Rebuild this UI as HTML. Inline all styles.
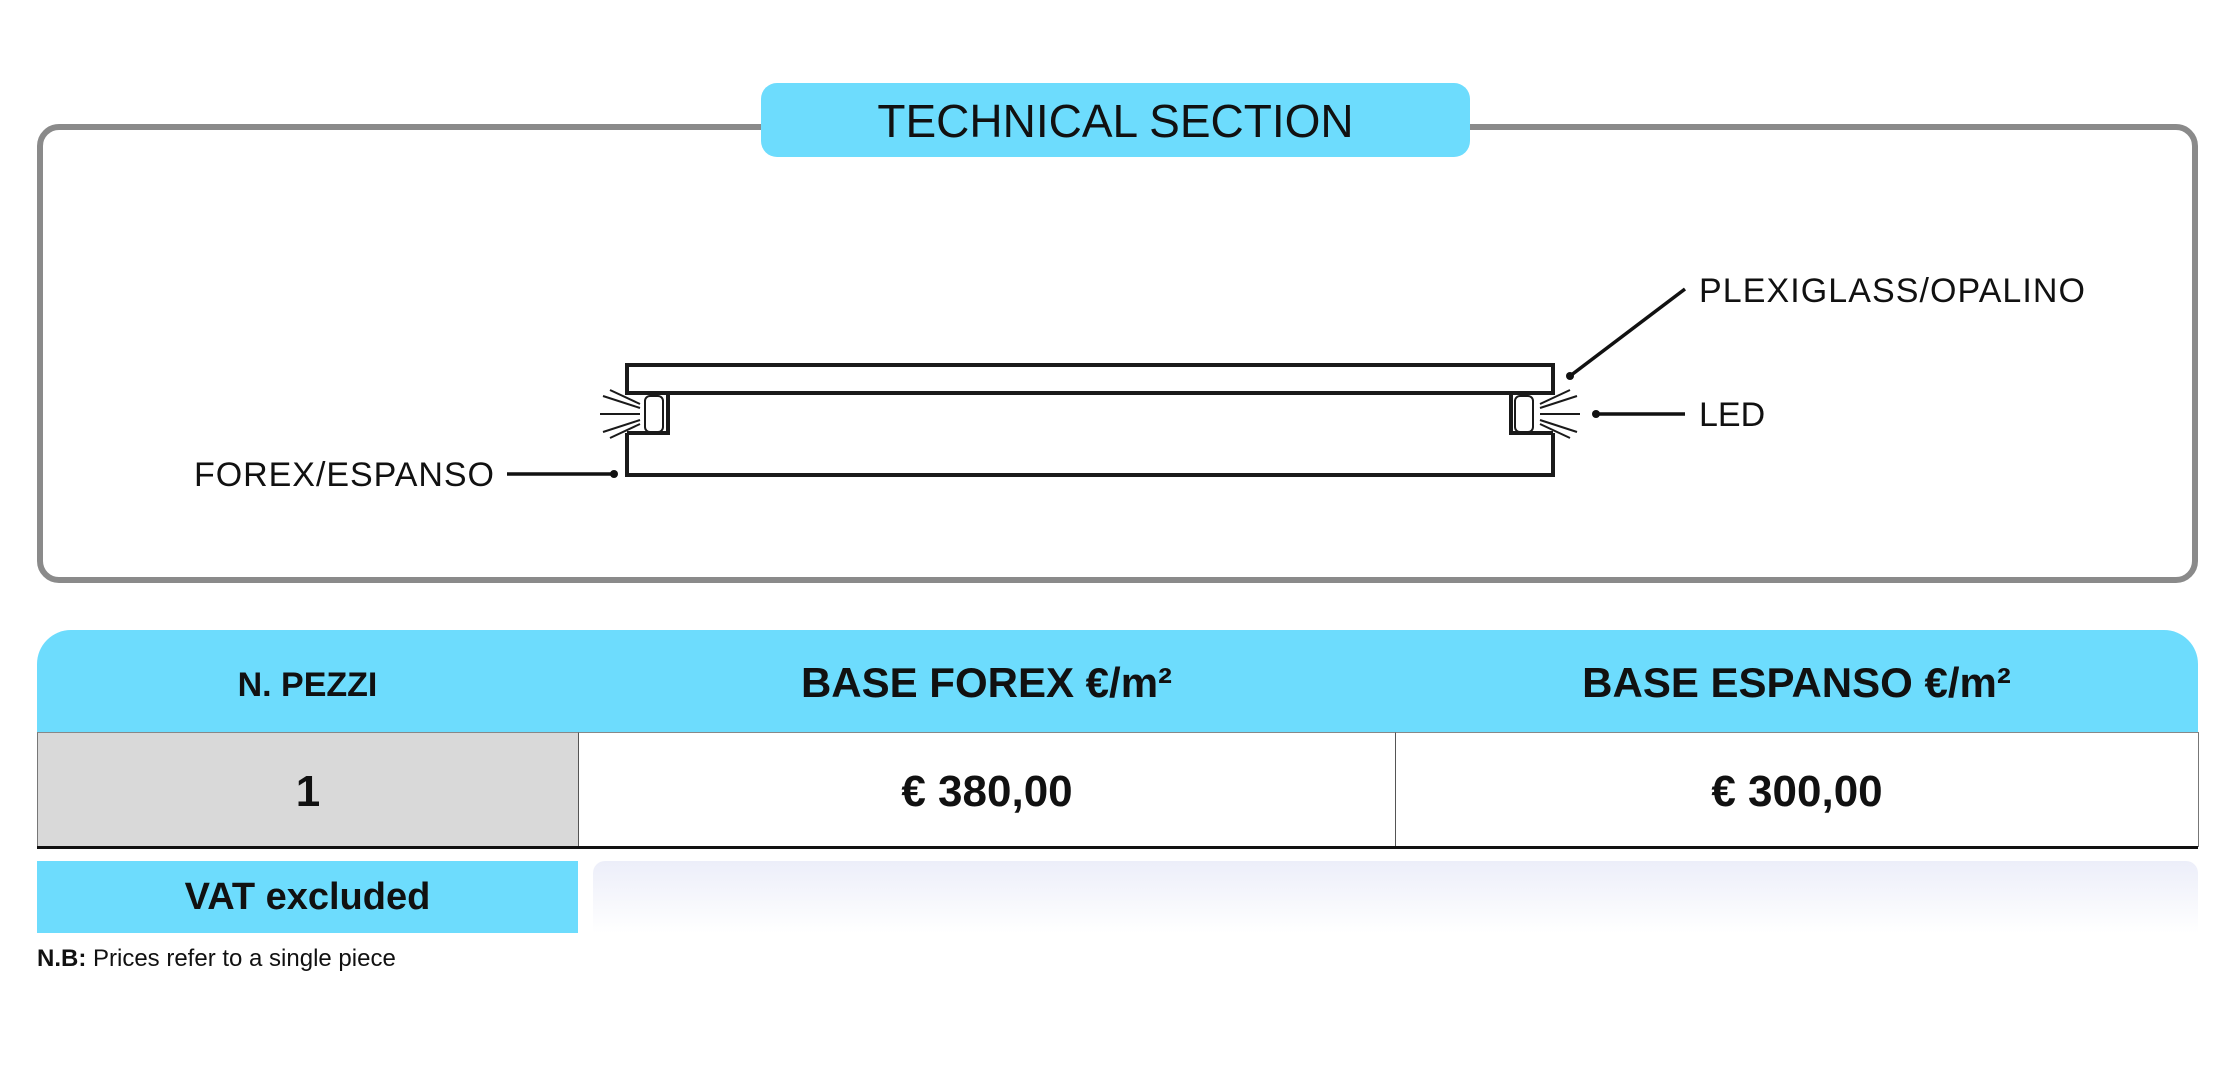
<!DOCTYPE html>
<html><head><meta charset="utf-8"><style>
body{margin:0;width:2214px;height:1069px;background:#fff;position:relative;overflow:hidden;font-family:"Liberation Sans",sans-serif;color:#111}
.a{position:absolute}
</style></head><body>
<div class="a" style="left:37px;top:124px;width:2149px;height:447px;border:6px solid #8a8a8a;border-radius:22px"></div>
<div class="a" style="left:761px;top:83px;width:709px;height:74px;background:#6ddcfd;border-radius:16px;text-align:center;line-height:76px;font-size:46px;color:#111">TECHNICAL SECTION</div>
<svg class="a" style="left:0;top:0" width="2214" height="600">
<g fill="none" stroke="#1a1a1a" stroke-width="4">
<rect x="627" y="365" width="926" height="28"/>
<path d="M627 433 H668 V393 M1553 433 H1511 V393 M627 433 V475 H1553 V433"/>
</g>
<g fill="none" stroke="#1a1a1a" stroke-width="2">
<rect x="645" y="396" width="18" height="36" rx="5"/>
<rect x="1515" y="396" width="18" height="36" rx="5"/>
<path d="M640 414 L600 414 M640 408 L603 396 M640 420 L603 432 M640 404 L610 390 M640 424 L610 438"/>
<path d="M1540 414 L1580 414 M1540 408 L1577 396 M1540 420 L1577 432 M1540 404 L1570 390 M1540 424 L1570 438"/>
</g>
<g stroke="#111" stroke-width="3.5">
<line x1="507" y1="474" x2="614" y2="474"/>
<line x1="1596" y1="414" x2="1685" y2="414"/>
<line x1="1570" y1="376" x2="1685" y2="289"/>
</g>
<g fill="#111"><circle cx="614" cy="474" r="4"/><circle cx="1596" cy="414" r="4"/><circle cx="1570" cy="376" r="4"/></g>
<g font-family="Liberation Sans, sans-serif" font-size="34" fill="#111">
<text x="494" y="486" text-anchor="end" textLength="300">FOREX/ESPANSO</text>
<text x="1699" y="426">LED</text>
<text x="1699" y="302" textLength="386">PLEXIGLASS/OPALINO</text>
</g>
</svg>
<div class="a" style="left:37px;top:630px;width:2161px;height:102px;background:#6ddcfd;border-radius:34px 34px 0 0"></div>
<div class="a" style="left:37px;top:630px;width:541px;height:102px;line-height:110px;text-align:center;font-weight:bold;font-size:34px">N. PEZZI</div>
<div class="a" style="left:578px;top:630px;width:817px;height:102px;line-height:106px;text-align:center;font-weight:bold;font-size:42px">BASE FOREX €/m²</div>
<div class="a" style="left:1395px;top:630px;width:803px;height:102px;line-height:106px;text-align:center;font-weight:bold;font-size:42px">BASE ESPANSO €/m²</div>
<div class="a" style="left:37px;top:732px;width:540px;height:114px;background:#d9d9d9;border-left:1px solid #777;border-top:1px solid #888;line-height:118px;text-align:center;font-weight:bold;font-size:44px">1</div>
<div class="a" style="left:578px;top:732px;width:816px;height:114px;border-left:1px solid #555;border-top:1px solid #888;line-height:118px;text-align:center;font-weight:bold;font-size:44px">€ 380,00</div>
<div class="a" style="left:1395px;top:732px;width:802px;height:114px;border-left:1px solid #555;border-right:1px solid #777;border-top:1px solid #888;line-height:118px;text-align:center;font-weight:bold;font-size:44px">€ 300,00</div>
<div class="a" style="left:37px;top:846px;width:2161px;height:3px;background:#111"></div>
<div class="a" style="left:37px;top:861px;width:541px;height:72px;background:#6ddcfd;line-height:72px;text-align:center;font-weight:bold;font-size:38px">VAT excluded</div>
<div class="a" style="left:593px;top:861px;width:1605px;height:72px;background:linear-gradient(#eceef9,#fff);border-radius:12px 12px 0 0"></div>
<div class="a" style="left:37px;top:945px;font-size:24px"><b>N.B:</b> Prices refer to a single piece</div>
</body></html>
